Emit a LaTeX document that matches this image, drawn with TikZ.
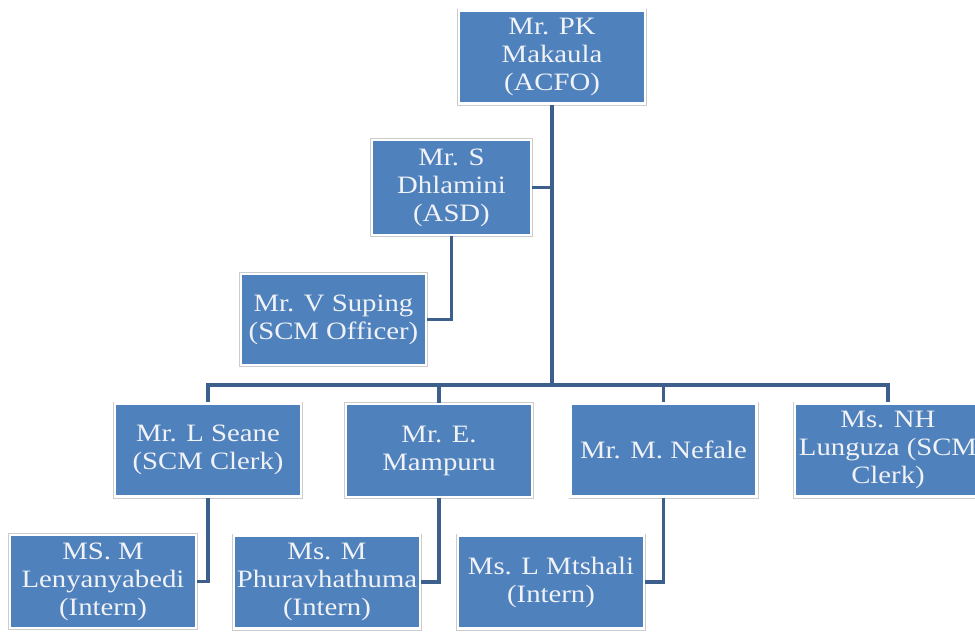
\documentclass[tikz,border=0pt]{standalone}
\usepackage{fontspec}
\setmainfont{Liberation Serif}[FakeStretch=1.15]
\usepackage{tikz}
\usetikzlibrary{positioning,backgrounds}

\definecolor{boxblue}{RGB}{79,129,189}
\definecolor{linkblue}{RGB}{61,95,140}
\definecolor{namecol}{RGB}{240,242,246}

\tikzset{
  person/.style={rectangle, fill=boxblue, draw=white, line width=2.6pt,
    preaction={draw=black!20, line width=4pt},
    minimum width=186pt, minimum height=93pt, inner sep=0pt,
    align=center, text=namecol, font=\fontsize{25}{28}\selectfont},
  link/.style={draw=linkblue, line width=3.5pt}
}

\begin{document}
\begin{tikzpicture}[x=1pt, y=-1pt]
    \useasboundingbox (0,0) rectangle (975,632);

    % top and second level
    \node[person] (acfo) at (552, 57)    {Mr. PK\\Makaula\\(ACFO)};
    \node[person, minimum width=159pt, minimum height=95pt] (asd) at (451.5, 187.5) {Mr. S\\Dhlamini\\(ASD)};
    \node[person, minimum width=185pt, minimum height=91pt] (scmo) at (333.5, 319.5) {Mr. V Suping\\(SCM Officer)};

    % clerks
    \node[person] (seane)   at (208, 450)   {Mr. L Seane\\(SCM Clerk)};
    \node[person] (mampuru) at (439, 450.5) {Mr. E.\\Mampuru};
    \node[person] (nefale)  at (663.5, 450) {Mr. M. Nefale};
    \node[person] (lunguza) at (888, 450)   {Ms. NH\\Lunguza (SCM\\Clerk)};

    % interns
    \node[person] (lenyan)  at (103, 581.5) {MS. M\\Lenyanyabedi\\(Intern)};
    \node[person] (phura)   at (327, 582)   {Ms. M\\Phuravhathuma\\(Intern)};
    \node[person] (mtshali) at (551, 582)   {Ms. L Mtshali\\(Intern)};

    \coordinate (bus) at (552, 385);

    \draw[link] (acfo.south) -- (bus);
    \draw[link] (bus) -| (seane.north);
    \draw[link] (bus) -| (mampuru.north);
    \draw[link] (bus) -| (nefale.north);
    \draw[link] (bus) -| (lunguza.north);

    \draw[link] (asd.east) -- (asd.east -| acfo.south);
    \draw[link] (asd.south) |- (scmo.east);

    \draw[link] (seane.south) |- (lenyan.east);
    \draw[link] (mampuru.south) |- (phura.east);
    \draw[link] (nefale.south) |- (mtshali.east);
\end{tikzpicture}
\end{document}
